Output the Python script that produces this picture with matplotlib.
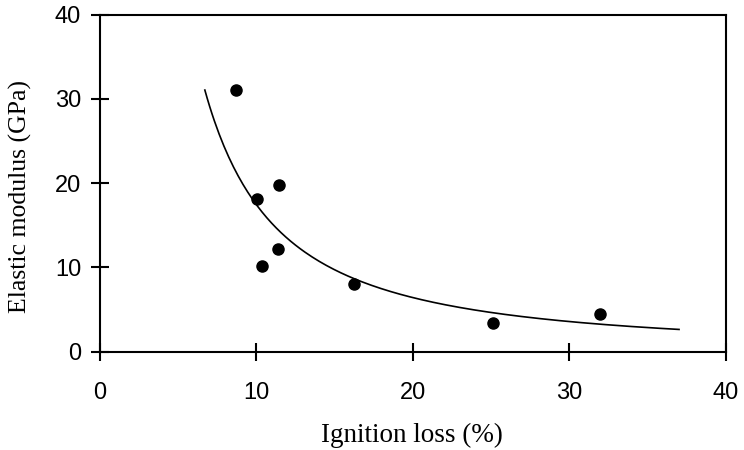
import numpy as np
import matplotlib
matplotlib.use("Agg")
import matplotlib.pyplot as plt

# measured points
ignition_loss = [8.7, 10.05, 10.33, 11.44, 11.35, 16.23, 25.13, 31.97]
elastic_modulus = [31.06, 18.09, 10.17, 19.76, 12.15, 8.04, 3.37, 4.51]

# power-law trendline y = a * x^b, fitted to the points
b, ln_a = np.polyfit(np.log(ignition_loss), np.log(elastic_modulus), 1)
x_fit = np.linspace(6.7, 37.0, 200)
y_fit = np.exp(ln_a) * x_fit ** b

fig = plt.figure(figsize=(7.44, 4.5), dpi=100)
ax = fig.add_axes([0.1344, 0.2184, 0.9758 - 0.1344, 0.9673 - 0.2184])

ax.plot(x_fit, y_fit, color="black", lw=1.2)
ax.plot(ignition_loss, elastic_modulus, "o", color="black", ms=8, mec="black")

ax.set_xlim(0, 40)
ax.set_ylim(0, 40)
ax.set_xticks([0, 10, 20, 30, 40])
ax.set_yticks([0, 10, 20, 30, 40])

for sp in ax.spines.values():
    sp.set_linewidth(1.5)

ax.tick_params(axis="both", direction="inout", length=13, width=1.5,
               labelsize=17, labelfontfamily="Liberation Sans")
ax.tick_params(axis="x", pad=15)
ax.tick_params(axis="y", pad=7)

ax.set_xlabel("Ignition loss (%)", fontfamily="Liberation Serif", fontsize=19.5)
ax.set_ylabel("Elastic modulus (GPa)", fontfamily="Liberation Serif", fontsize=18.5)
ax.xaxis.set_label_coords(0.499, -0.211)
ax.yaxis.set_label_coords(-0.108, 0.462)

fig.savefig("out.png", dpi=100)
